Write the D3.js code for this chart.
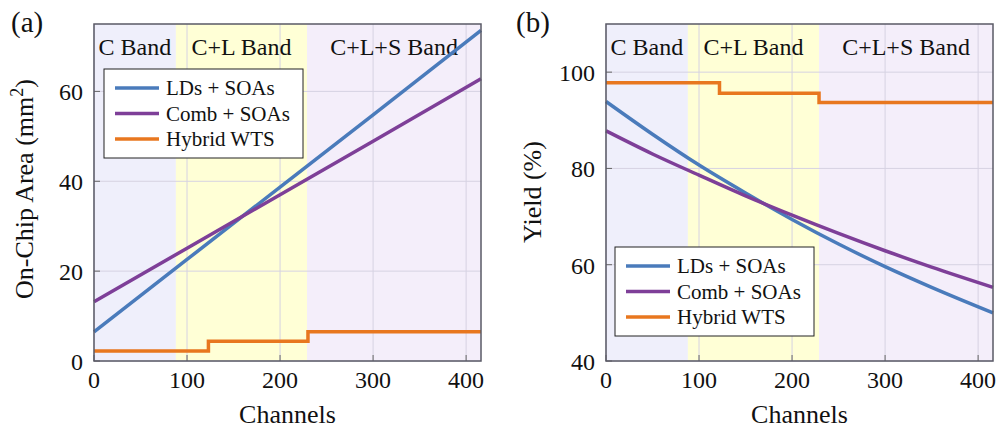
<!DOCTYPE html>
<html>
<head>
<meta charset="utf-8">
<script src="https://cdn.jsdelivr.net/npm/d3@7"></script>
<style>
  body { margin: 0; background: #fff; }
  svg text { font-family: "Liberation Serif", "Times New Roman", serif; fill: #111; }
</style>
</head>
<body>
<svg id="chart" width="999" height="430"></svg>
<script>
// band limits (channels)
var bands = [
  { name: "C Band", from: 0, to: 88, color: "#efeffb" },
  { name: "C+L Band", from: 88, to: 229, color: "#ffffd6" },
  { name: "C+L+S Band", from: 229, to: 416, color: "#f4eefa" }
];
var seriesNames = ["LDs + SOAs", "Comb + SOAs", "Hybrid WTS"];
var seriesColors = ["#4a7bbb", "#7e3f98", "#e8771f"];

// (a) on-chip area, mm^2
var areaLds = [[0, 6.5], [100, 22.6], [200, 38.7], [300, 54.8], [416, 73.6]];
var areaComb = [[0, 13.2], [100, 25.1], [200, 37.0], [300, 48.9], [416, 62.8]];
var areaHybrid = [[0, 2.2], [123, 2.2], [123, 4.4], [230, 4.4], [230, 6.5], [416, 6.5]];

// (b) yield, %
var yieldLds = [[0, 93.9], [50, 87.1], [100, 80.7], [150, 74.9], [200, 69.4], [250, 64.3], [300, 59.6], [350, 55.3], [416, 50.0]];
var yieldComb = [[0, 87.8], [50, 83.0], [100, 78.6], [150, 74.3], [200, 70.3], [250, 66.5], [300, 62.9], [350, 59.5], [416, 55.3]];
var yieldHybrid = [[0, 97.8], [122, 97.8], [122, 95.6], [229, 95.6], [229, 93.7], [416, 93.7]];

var xTicks = [0, 100, 200, 300, 400];
var areaTicks = [0, 20, 40, 60];
var yieldTicks = [40, 60, 80, 100];

var svg = d3.select("#chart");

function panel(opt) {
  var g = svg.append("g");
  var x = d3.scaleLinear().domain([0, 416]).range([opt.left, opt.right]);
  var y = d3.scaleLinear().domain(opt.yDomain).range([opt.bottom, opt.top]);

  // background bands
  g.selectAll("rect.band").data(bands).enter().append("rect")
    .attr("class", "band")
    .attr("x", function(d) { return x(d.from); })
    .attr("y", opt.top)
    .attr("width", function(d) { return x(d.to) - x(d.from); })
    .attr("height", opt.bottom - opt.top)
    .style("fill", function(d) { return d.color; });

  // grid
  g.selectAll("line.gx").data(xTicks).enter().append("line")
    .attr("x1", x).attr("x2", x)
    .attr("y1", opt.top).attr("y2", opt.bottom)
    .style("stroke", "#d6d2e2").style("stroke-width", 1);
  g.selectAll("line.gy").data(opt.yTicks).enter().append("line")
    .attr("y1", y).attr("y2", y)
    .attr("x1", opt.left).attr("x2", opt.right)
    .style("stroke", "#d6d2e2").style("stroke-width", 1);

  // band labels
  g.selectAll("text.bl").data(bands).enter().append("text")
    .attr("x", function(d) { return (x(d.from) + x(d.to)) / 2; })
    .attr("y", opt.top + 31)
    .attr("text-anchor", "middle")
    .style("font-size", "24px")
    .text(function(d) { return d.name; });

  // lines
  var line = d3.line().x(function(d) { return x(d[0]); }).y(function(d) { return y(d[1]); });
  var curve = d3.line().curve(d3.curveMonotoneX)
    .x(function(d) { return x(d[0]); }).y(function(d) { return y(d[1]); });
  opt.series.forEach(function(s, i) {
    g.append("path")
      .datum(s)
      .attr("d", i == 2 ? line(s) : (opt.smooth ? curve(s) : line(s)))
      .style("fill", "none")
      .style("stroke", seriesColors[i])
      .style("stroke-width", 3.5);
  });

  // ticks (inside)
  g.selectAll("line.tx").data(xTicks).enter().append("line")
    .attr("x1", x).attr("x2", x)
    .attr("y1", opt.bottom).attr("y2", opt.bottom - 6)
    .style("stroke", "#666").style("stroke-width", 1);
  g.selectAll("line.ty").data(opt.yTicks).enter().append("line")
    .attr("y1", y).attr("y2", y)
    .attr("x1", opt.left).attr("x2", opt.left + 6)
    .style("stroke", "#666").style("stroke-width", 1);

  // frame
  g.append("rect")
    .attr("x", opt.left).attr("y", opt.top)
    .attr("width", opt.right - opt.left).attr("height", opt.bottom - opt.top)
    .style("fill", "none").style("stroke", "#5a5a66").style("stroke-width", 1.5);

  // tick labels
  g.selectAll("text.xl").data(xTicks).enter().append("text")
    .attr("x", x).attr("y", opt.bottom + 27)
    .attr("text-anchor", "middle")
    .style("font-size", "24px")
    .text(function(d) { return d; });
  g.selectAll("text.yl").data(opt.yTicks).enter().append("text")
    .attr("x", opt.left - 11).attr("y", function(d) { return y(d) + 9; })
    .attr("text-anchor", "end")
    .style("font-size", "24px")
    .text(function(d) { return d; });

  // axis titles
  g.append("text")
    .attr("x", (opt.left + opt.right) / 2).attr("y", opt.bottom + 62)
    .attr("text-anchor", "middle")
    .style("font-size", "26px")
    .text("Channels");
  var yt = g.append("text")
    .attr("transform", "translate(" + opt.yTitleX + "," + opt.yTitleY + ") rotate(-90)")
    .attr("text-anchor", "middle")
    .style("font-size", "26px");
  yt.append("tspan").text(opt.yTitle);
  if (opt.yTitleSup) {
    yt.append("tspan").attr("dy", -10).style("font-size", "18px").text("2");
    yt.append("tspan").attr("dy", 10).text(")");
  }

  // panel label
  g.append("text")
    .attr("x", opt.tagX).attr("y", 32)
    .style("font-size", "29px")
    .text(opt.tag);

  // legend
  var lg = g.append("g").attr("transform", "translate(" + opt.legX + "," + opt.legY + ")");
  lg.append("rect")
    .attr("width", 199).attr("height", 89)
    .style("fill", "#fff").style("stroke", "#222").style("stroke-width", 1);
  seriesNames.forEach(function(n, i) {
    lg.append("line")
      .attr("x1", 11).attr("x2", 55)
      .attr("y1", 19 + i * 25.5).attr("y2", 19 + i * 25.5)
      .style("stroke", seriesColors[i]).style("stroke-width", 3.5);
    lg.append("text")
      .attr("x", 62).attr("y", 26 + i * 25.5)
      .style("font-size", "21px")
      .text(n);
  });
}

panel({
  left: 94, right: 481, top: 24, bottom: 361,
  yDomain: [0, 75], yTicks: areaTicks,
  series: [areaLds, areaComb, areaHybrid], smooth: false,
  yTitle: "On-Chip Area (mm", yTitleSup: true, yTitleX: 33, yTitleY: 189,
  tag: "(a)", tagX: 11,
  legX: 104, legY: 69
});

panel({
  left: 606, right: 993, top: 24, bottom: 361,
  yDomain: [40, 110], yTicks: yieldTicks,
  series: [yieldLds, yieldComb, yieldHybrid], smooth: true,
  yTitle: "Yield (%)", yTitleSup: false, yTitleX: 541, yTitleY: 192,
  tag: "(b)", tagX: 516,
  legX: 615, legY: 247
});
</script>
</body>
</html>
